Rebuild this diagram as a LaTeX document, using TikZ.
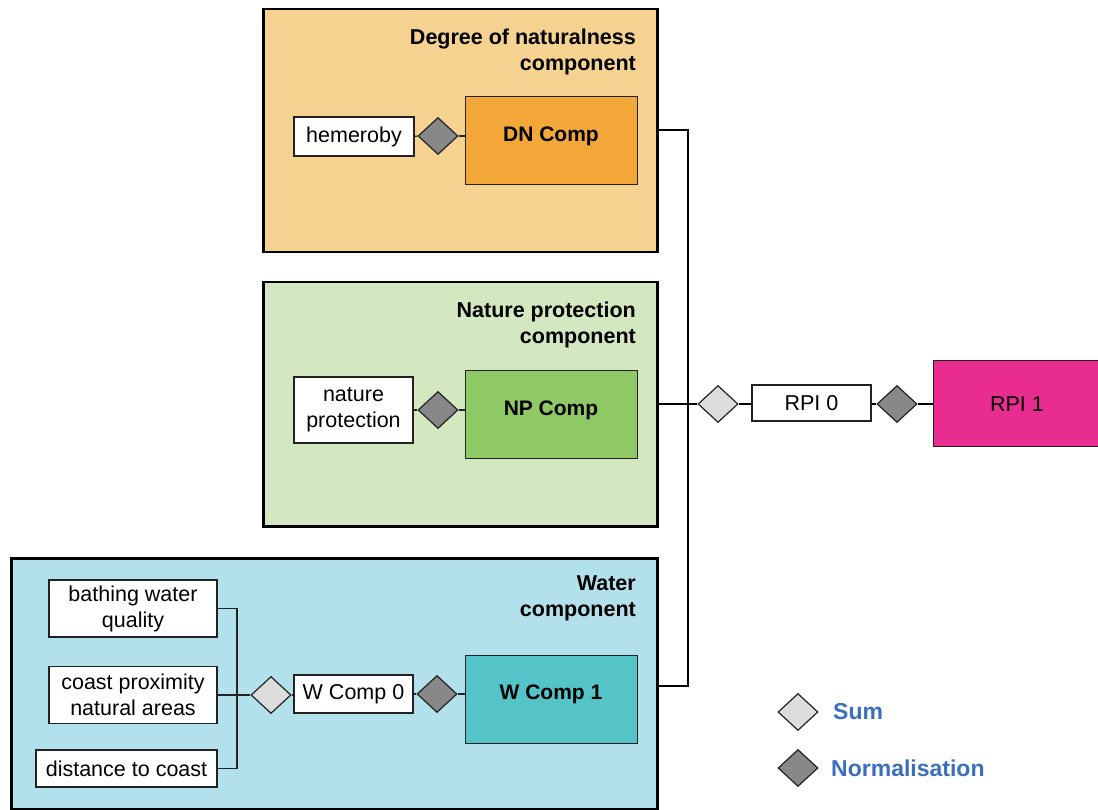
\documentclass[tikz,border=0pt]{standalone}
\usepackage{fontspec}
\setmainfont{Liberation Sans}
\usetikzlibrary{shapes.geometric,calc}
\definecolor{dnbg}{HTML}{F5D290}
\definecolor{dnfill}{HTML}{F3A738}
\definecolor{npbg}{HTML}{D3E7C1}
\definecolor{npfill}{HTML}{8FC965}
\definecolor{wbg}{HTML}{B2E1EC}
\definecolor{wfill}{HTML}{55C4C8}
\definecolor{rpifill}{HTML}{E92C8F}
\definecolor{lightd}{HTML}{DDDDDD}
\definecolor{darkd}{HTML}{888888}
\definecolor{legblue}{HTML}{3A6EBF}
\definecolor{edge}{HTML}{222222}
\tikzset{
  outerbox/.style={draw=black, line width=2.5pt, anchor=north west, inner sep=0},
  inbox/.style={draw=edge, line width=1.2pt, fill=white, align=center, inner sep=0, font=\fontsize{21.5}{26}\selectfont},
  compbox/.style={draw=edge, line width=1.2pt, inner sep=0, minimum width=172pt, minimum height=88pt, anchor=north west},
  complabel/.style={inner sep=0, font=\bfseries\fontsize{21}{24}\selectfont},
  title/.style={anchor=north east, align=right, font=\bfseries\fontsize{21.5}{26}\selectfont, inner sep=0},
  sumd/.style={diamond, draw=edge, line width=1.2pt, fill=lightd, minimum width=40pt, minimum height=37pt, inner sep=0},
  normd/.style={diamond, draw=edge, line width=1.2pt, fill=darkd, minimum width=40pt, minimum height=37pt, inner sep=0},
  thinline/.style={draw=edge, line width=1.3pt},
  thickline/.style={draw=black, line width=2.2pt},
  legtext/.style={anchor=west, text=legblue, font=\bfseries\fontsize{23}{26}\selectfont, inner sep=0}
}
\begin{document}
\begin{tikzpicture}[x=1pt,y=-1pt]
\useasboundingbox (0,0) rectangle (1098,810);
% outer component boxes
\node[outerbox, fill=dnbg, minimum width=394pt, minimum height=243pt] (dnbox) at (262,8) {};
\node[outerbox, fill=npbg, minimum width=394pt, minimum height=244pt] (npbox) at (262,281) {};
\node[outerbox, fill=wbg, minimum width=646pt, minimum height=251pt] (wbox) at (10,557) {};
% titles
\node[title] (dntitle) at (636,29) {Degree of naturalness\\component};
\node[title] (nptitle) at (636,302) {Nature protection\\component};
\node[title] (wtitle) at (636,576) {Water\\component};
% DN component
\node[inbox, minimum width=120pt, minimum height=39pt] (hem) at (354,136.5) {hemeroby};
\node[normd] (dnn) at (438,136) {};
\node[compbox, fill=dnfill] (dncomp) at (465,96) {};
\node[complabel] (dnl) at (551,136) {DN Comp};
% NP component
\node[inbox, minimum width=119pt, minimum height=66pt] (nprot) at (353.5,410) {nature\\protection};
\node[normd] (npn) at (438,410) {};
\node[compbox, fill=npfill] (npcomp) at (465,370) {};
\node[complabel] (npl) at (551,410) {NP Comp};
% Water component
\node[inbox, minimum width=168pt, minimum height=57pt] (bwq) at (133,608.5) {bathing water\\quality};
\node[inbox, minimum width=168pt, minimum height=57pt] (cpna) at (133,695) {coast proximity\\natural areas};
\node[inbox, minimum width=181pt, minimum height=37pt] (dtc) at (126.5,768.5) {distance to coast};
\node[sumd] (wsum) at (271,695) {};
\node[inbox, minimum width=119pt, minimum height=38pt] (wc0) at (353.5,694) {W Comp 0};
\node[normd] (wn) at (437,694) {};
\node[compbox, fill=wfill] (wcomp) at (465,655) {};
\node[complabel] (wl) at (551,694) {W Comp 1};
% RPI
\node[sumd] (rsum) at (718,404) {};
\node[inbox, minimum width=119pt, minimum height=36pt] (rpi0) at (811.5,403) {RPI 0};
\node[normd] (rn) at (897,404) {};
\node[draw=edge, line width=1.2pt, fill=rpifill, anchor=north west, minimum width=175pt, minimum height=86pt, inner sep=0] (rpi1) at (933,360) {};
\node[font=\fontsize{21.5}{24}\selectfont, inner sep=0] (rpi1t) at (1017,404) {RPI 1};
% inner connectors
\draw[thinline] (hem.east) -- (dnn.west);
\draw[thinline] (dnn.east) -- (dncomp.west |- dnn);
\draw[thinline] (nprot.east) -- (npn.west);
\draw[thinline] (npn.east) -- (npcomp.west |- npn);
\coordinate (bx1) at (237,608.5);
\coordinate (bx2) at (237,768.5);
\draw[thinline] (bwq.east) -- (bx1) -- (bx2) -- (dtc.east);
\draw[thinline] (cpna.east) -- (wsum.west);
\draw[thinline] (wsum.east) -- (wc0.west |- wsum);
\draw[thinline] (wc0.east) -- (wn.west);
\draw[thinline] (wn.east) -- (wcomp.west |- wn);
% main connectors
\coordinate (j1) at (688,130);
\coordinate (j3) at (688,686);
\draw[thickline] (dnbox.east |- j1) -- (j1) -- (j3) -- (wbox.east |- j3);
\draw[thickline] (npbox.east |- rsum) -- (rsum.west);
\draw[thickline] (rsum.east) -- (rpi0.west |- rsum);
\draw[thickline] (rpi0.east |- rn) -- (rn.west);
\draw[thickline] (rn.east) -- (rpi1.west |- rn);
% legend
\node[sumd] (lsum) at (798,712) {};
\node[normd] (lnorm) at (798,768) {};
\node[legtext] (lsumt) at (833,712) {Sum};
\node[legtext] (lnormt) at (831,768) {Normalisation};
\end{tikzpicture}
\end{document}
